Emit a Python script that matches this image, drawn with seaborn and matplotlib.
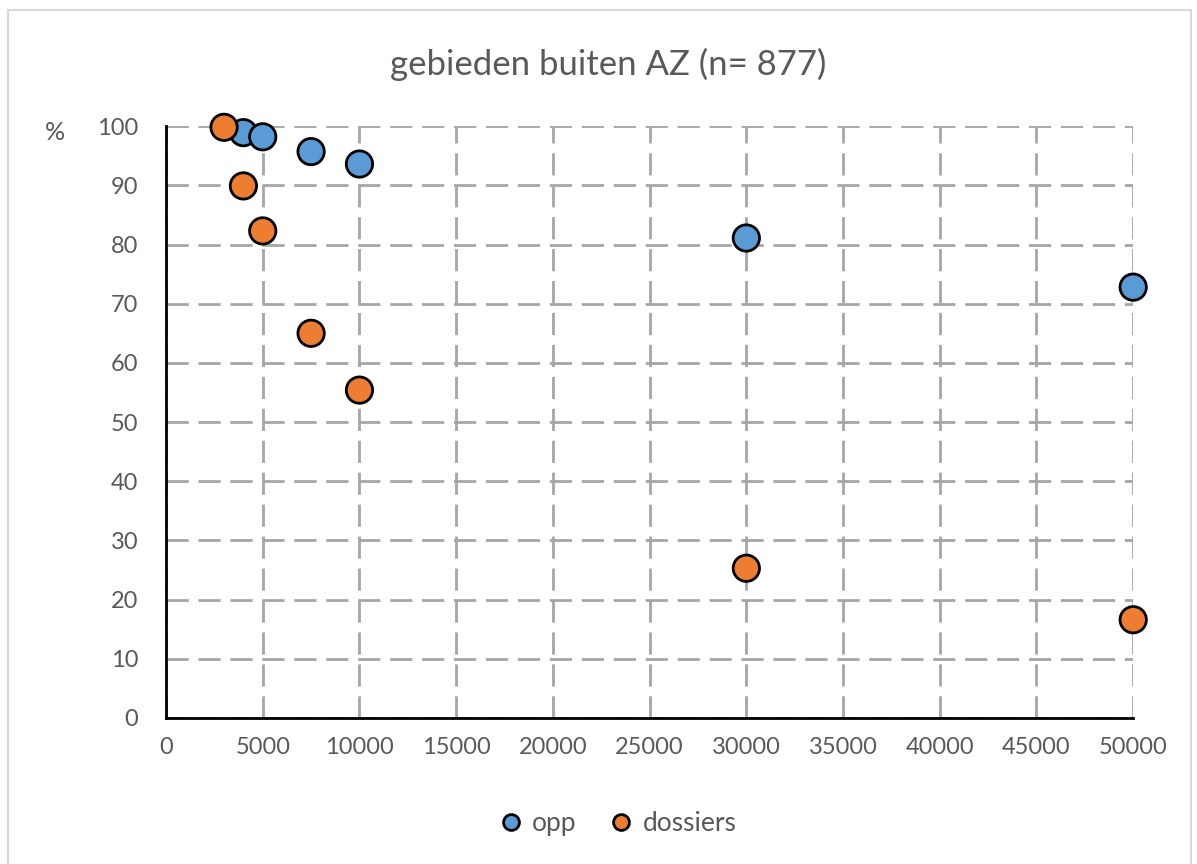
import matplotlib
matplotlib.use("Agg")
import matplotlib.pyplot as plt
import matplotlib.patches as patches
import pandas as pd
import seaborn as sns
import numpy as np

# data
opp_x = [4000, 5000, 7500, 10000, 30000, 50000]
opp_y = [98.9, 98.2, 95.7, 93.6, 81.1, 72.8]
dos_x = [3000, 4000, 5000, 7500, 10000, 30000, 50000]
dos_y = [99.8, 89.9, 82.3, 65.0, 55.4, 25.3, 16.6]
series = ["opp", "dossiers"]
colors = ["#5B9BD5", "#ED7D31"]

df = pd.concat([
    pd.DataFrame({"x": opp_x, "y": opp_y, "reeks": "opp"}),
    pd.DataFrame({"x": dos_x, "y": dos_y, "reeks": "dossiers"}),
], ignore_index=True)

sns.set_style("white")
plt.rcParams["font.family"] = ["Lato", "DejaVu Sans"]
txt = "#595959"

fig = plt.figure(figsize=(11.97, 8.64), dpi=100)
ax = fig.add_axes([0.1387, 0.169, 0.808, 0.685])

sns.scatterplot(data=df, x="x", y="y", hue="reeks", hue_order=series,
                palette=colors, s=360, edgecolor="black", linewidth=2,
                zorder=3, clip_on=False, ax=ax)

ax.set_xlim(0, 50000)
ax.set_ylim(0, 100)
ax.set_xticks(np.arange(0, 50001, 5000))
ax.set_yticks(np.arange(0, 101, 10))
ax.set_xlabel("")
ax.set_ylabel("")

ax.grid(True, color="#A6A6A6", linestyle=(0, (8, 3.5)), linewidth=2, zorder=0)
ax.set_axisbelow(True)
for s in ["top", "right"]:
    ax.spines[s].set_visible(False)
for s in ["left", "bottom"]:
    ax.spines[s].set_color("black")
    ax.spines[s].set_linewidth(2)
    ax.spines[s].set_zorder(2)

ax.tick_params(axis="x", length=6, width=2, color="black", direction="out",
               labelsize=17, labelcolor=txt, pad=8)
ax.tick_params(axis="y", length=0, labelsize=17, labelcolor=txt, pad=20)

fig.text(0.508, 0.925, "gebieden buiten AZ (n= 877)", fontsize=25, color=txt,
         ha="center", va="center")
fig.text(0.046, 0.847, "%", fontsize=18, color=txt, ha="center", va="center")

# move the legend below the plot, without the hue title
handles, labels = ax.get_legend_handles_labels()
ax.get_legend().remove()
fig.legend(handles, labels, loc="center", bbox_to_anchor=(0.51, 0.047),
           ncol=2, frameon=False, fontsize=19, labelcolor=txt,
           markerscale=0.6, handletextpad=-0.2, columnspacing=0.7)

# light chart-area border like the office export
fig.patches.append(patches.Rectangle((0.007, -0.01), 0.988, 0.999,
                                     transform=fig.transFigure, fill=False,
                                     edgecolor="#D9D9D9", linewidth=1.5))

fig.savefig("out.png", dpi=100)
